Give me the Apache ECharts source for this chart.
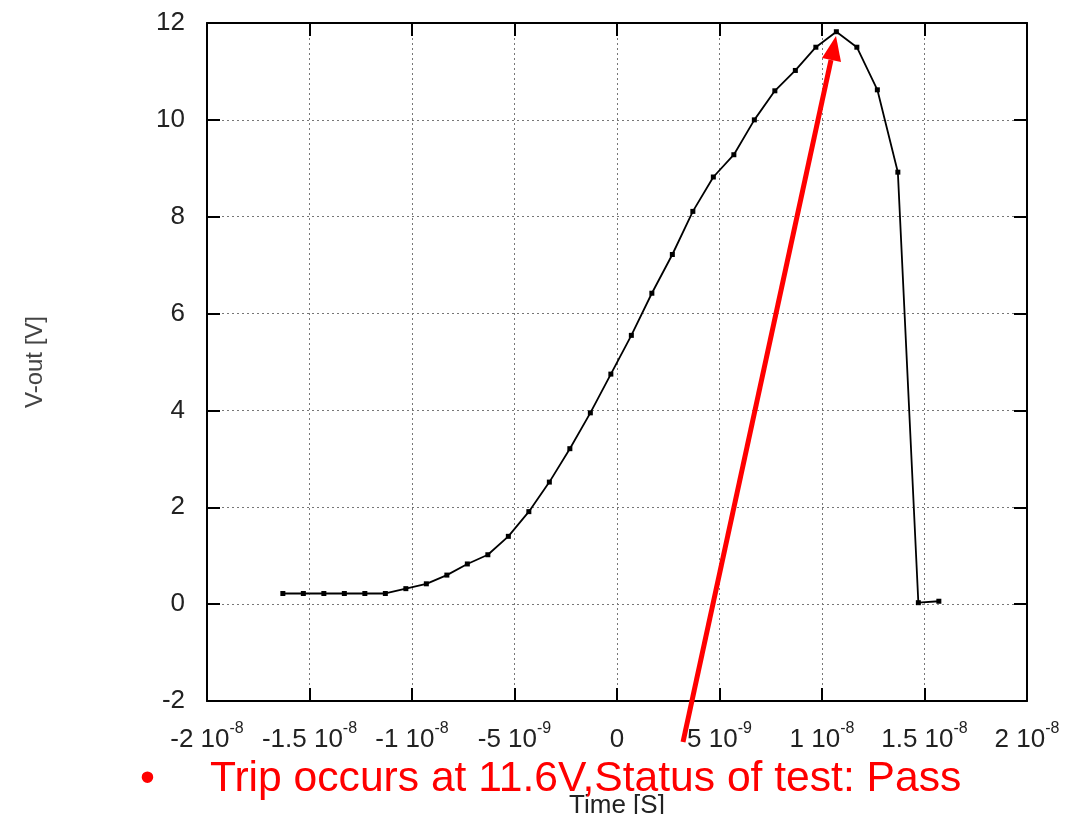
<!DOCTYPE html>
<html>
<head>
<meta charset="utf-8">
<title>V-out vs Time</title>
<script src="https://cdn.jsdelivr.net/npm/echarts/dist/echarts.min.js"></script>
<style>
html, body { margin: 0; padding: 0; background: #fff; }
#main { width: 1078px; height: 814px; }
</style>
</head>
<body>
<div id="main"></div>
<script>
// time in ns (axis labels are written in seconds)
var times = [-16.3, -15.3, -14.3, -13.3, -12.3, -11.3, -10.3, -9.3, -8.3, -7.3, -6.3,
	-5.3, -4.3, -3.3, -2.3, -1.3, -0.3, 0.7, 1.7, 2.7, 3.7, 4.7, 5.7, 6.7, 7.7, 8.7,
	9.7, 10.7, 11.7, 12.7, 13.7, 14.7, 15.7];
var volts = [0.22, 0.22, 0.22, 0.22, 0.22, 0.22, 0.32, 0.42, 0.60, 0.83, 1.02,
	1.40, 1.91, 2.52, 3.21, 3.95, 4.75, 5.55, 6.42, 7.22, 8.11, 8.82, 9.28, 10.0, 10.6, 11.02,
	11.5, 11.82, 11.5, 10.62, 8.92, 0.03, 0.06];

var xTickMant = ['-2', '-1.5', '-1', '-5', '0', '5', '1', '1.5', '2'];
var xTickExp = ['-8', '-8', '-8', '-9', '', '-9', '-8', '-8', '-8'];
var yTicks = ['-2', '0', '2', '4', '6', '8', '10', '12'];

var noteText = 'Trip occurs at 11.6V,Status of test: Pass';

var points = [];
for (var i = 0; i < times.length; i++) {
	points.push([times[i], volts[i]]);
}

var frameLine = { show: true, onZero: false, lineStyle: { color: '#000', width: 2 } };
var frameTick = { show: true, inside: true, length: 13, lineStyle: { color: '#000', width: 2 } };
var gridLine = { show: true, lineStyle: { type: [2, 3], color: '#777', width: 1 } };

function xLabel(v) {
	var idx = Math.round((v + 20) / 5);
	if (xTickExp[idx] === '') return '{b|' + xTickMant[idx] + '}';
	return '{b|' + xTickMant[idx] + ' 10}{sup|' + xTickExp[idx] + '}';
}

function yLabel(v) {
	return yTicks[Math.round((v + 2) / 2)];
}

var opt = {
	animation: false,
	backgroundColor: '#fff',
	grid: { left: 207, right: 51, top: 23, bottom: 113, containLabel: false, outerBoundsMode: 'none' },
	xAxis: [{
		type: 'value', position: 'bottom',
		min: -20, max: 20, interval: 5,
		axisLine: frameLine, axisTick: frameTick, splitLine: gridLine,
		axisLabel: {
			margin: 20, formatter: xLabel,
			rich: {
				b: { fontFamily: 'Liberation Sans', fontSize: 26, color: '#222', lineHeight: 32, verticalAlign: 'bottom' },
				sup: { fontFamily: 'Liberation Sans', fontSize: 16, color: '#222', lineHeight: 16, verticalAlign: 'top' }
			}
		},
		name: 'Time [S]', nameLocation: 'middle', nameGap: 92,
		nameTextStyle: { fontFamily: 'Liberation Sans', fontSize: 26, color: '#222', verticalAlign: 'top' }
	}, {
		type: 'value', position: 'top',
		min: -20, max: 20, interval: 5,
		axisLine: frameLine, axisTick: frameTick,
		axisLabel: { show: false }, splitLine: { show: false }
	}],
	yAxis: [{
		type: 'value', position: 'left',
		min: -2, max: 12, interval: 2,
		axisLine: frameLine, axisTick: frameTick, splitLine: gridLine,
		axisLabel: { margin: 22, formatter: yLabel, fontFamily: 'Liberation Sans', fontSize: 26, color: '#222' },
		name: 'V-out [V]', nameLocation: 'middle', nameGap: 160, nameRotate: 90,
		nameTextStyle: { fontFamily: 'Liberation Sans', fontSize: 24, color: '#444' }
	}, {
		type: 'value', position: 'right',
		min: -2, max: 12, interval: 2,
		axisLine: frameLine, axisTick: frameTick,
		axisLabel: { show: false }, splitLine: { show: false }
	}],
	series: [{
		name: 'V-out',
		type: 'line',
		data: points,
		symbol: 'rect',
		symbolSize: 5,
		showAllSymbol: true,
		lineStyle: { color: '#000', width: 1.8 },
		itemStyle: { color: '#000' },
		z: 3
	}],
	graphic: [{
		type: 'line', z: 100,
		shape: { x1: 683, y1: 742, x2: 831, y2: 60 },
		style: { stroke: '#ff0000', lineWidth: 5 }
	}, {
		type: 'polygon', z: 100,
		shape: { points: [[836, 36], [841, 62], [822, 58]] },
		style: { fill: '#ff0000' }
	}, {
		type: 'text', z: 100, left: 140, top: 758,
		style: { text: '\u2022', fontFamily: 'Liberation Sans', fontSize: 42.6, fill: '#ff0000' }
	}, {
		type: 'text', z: 100, left: 210, top: 758,
		style: { text: noteText, fontFamily: 'Liberation Sans', fontSize: 42.6, fill: '#ff0000' }
	}]
};

var chart = echarts.init(document.getElementById('main'));
chart.setOption(opt);
</script>
</body>
</html>
